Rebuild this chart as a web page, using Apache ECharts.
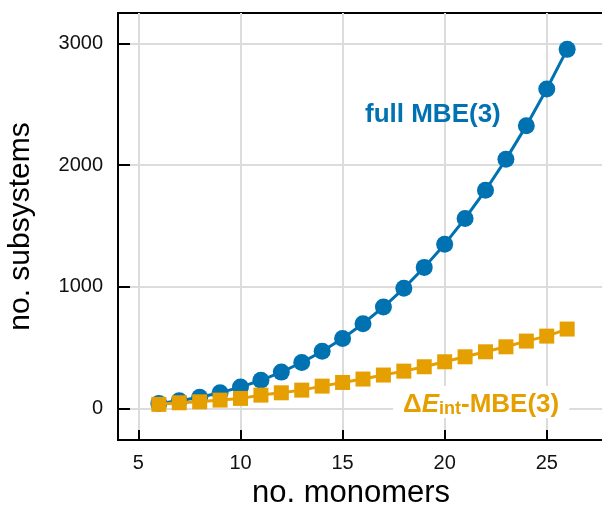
<!DOCTYPE html>
<html>
<head>
<meta charset="utf-8">
<script src="https://cdn.jsdelivr.net/npm/echarts@6/dist/echarts.min.js"></script>
<style>html,body{margin:0;padding:0;background:#fff}#c{width:602px;height:506px}</style>
</head>
<body>
<div id="c"></div>
<script>
const monomers = [6,7,8,9,10,11,12,13,14,15,16,17,18,19,20,21,22,23,24,25,26];
const fullMBE = [41,63,92,129,175,231,298,377,469,575,696,833,987,1159,1350,1561,1793,2047,2324,2625,2951];
const deltaMBE = [33,46,54,68,82,109,128,150,183,213,241,274,306,342,383,424,465,506,553,594,652];
const xTicks = [5,10,15,20,25];
const yTicks = [0,1000,2000,3000];

const BLUE = '#0072B2', ORANGE = '#E69F00';
const font = 'Liberation Sans, Arial, Helvetica, sans-serif';
const chart = echarts.init(document.getElementById('c'), null, {renderer:'canvas'});
chart.setOption({
  animation:false,
  backgroundColor:'#fff',
  grid:{left:118, top:13, right:-6, bottom:66, containLabel:false, outerBoundsMode:'none', show:true, borderColor:'#000', borderWidth:2, backgroundColor:'transparent'},
  xAxis:{type:'value', min:4, max:28,
    name:'no. monomers', nameLocation:'middle', nameGap:35,
    nameTextStyle:{fontSize:31, color:'#000', fontFamily:font, padding:[0,24,0,0]},
    axisLine:{show:true, onZero:false, lineStyle:{color:'#000', width:2}},
    axisTick:{show:true, inside:true, length:10, lineStyle:{color:'#000', width:2}, customValues:xTicks},
    axisLabel:{customValues:xTicks, fontSize:20, color:'#111', margin:13, fontFamily:font, formatter:v=>String(v)},
    splitLine:{show:true, lineStyle:{color:'#dcdcdc', width:2}}
  },
  yAxis:{type:'value', min:-260, max:3250,
    name:'no. subsystems', nameLocation:'middle', nameGap:82,
    nameTextStyle:{fontSize:30, color:'#000', fontFamily:font},
    axisLine:{show:true, onZero:false, lineStyle:{color:'#000', width:2}},
    axisTick:{show:true, inside:true, length:12, lineStyle:{color:'#000', width:2}, customValues:yTicks},
    axisLabel:{customValues:yTicks, fontSize:20, color:'#111', margin:15, fontFamily:font, formatter:v=>String(v)},
    splitLine:{show:true, lineStyle:{color:'#dcdcdc', width:2}}
  },
  graphic:[
    {type:'text', left:365, top:102, z:100, style:{text:'full MBE(3)', fill:BLUE, font:'bold 26px ' + font}},
    {type:'text', left:393, top:386, z:100, style:{
      text:'{a|Δ}{e|E}{s|int}{a|-MBE(3)}',
      backgroundColor:'#fff', padding:[0,10,0,10],
      rich:{
        a:{fill:ORANGE, fontSize:26, fontWeight:'bold', fontFamily:font, verticalAlign:'bottom', lineHeight:32},
        e:{fill:ORANGE, fontSize:26, fontWeight:'bold', fontStyle:'italic', fontFamily:font, verticalAlign:'bottom', lineHeight:32},
        s:{fill:ORANGE, fontSize:18, fontWeight:'bold', fontFamily:font, verticalAlign:'bottom', lineHeight:10}
      }}}
  ],
  series:[
    {type:'line', data:monomers.map((m,i)=>[m,fullMBE[i]]), symbol:'circle', symbolSize:17,
      itemStyle:{color:BLUE}, lineStyle:{color:BLUE, width:3}, z:3},
    {type:'line', data:monomers.map((m,i)=>[m,deltaMBE[i]]), symbol:'rect', symbolSize:15,
      itemStyle:{color:ORANGE}, lineStyle:{color:ORANGE, width:3}, z:4}
  ]
});
</script>
</body>
</html>
